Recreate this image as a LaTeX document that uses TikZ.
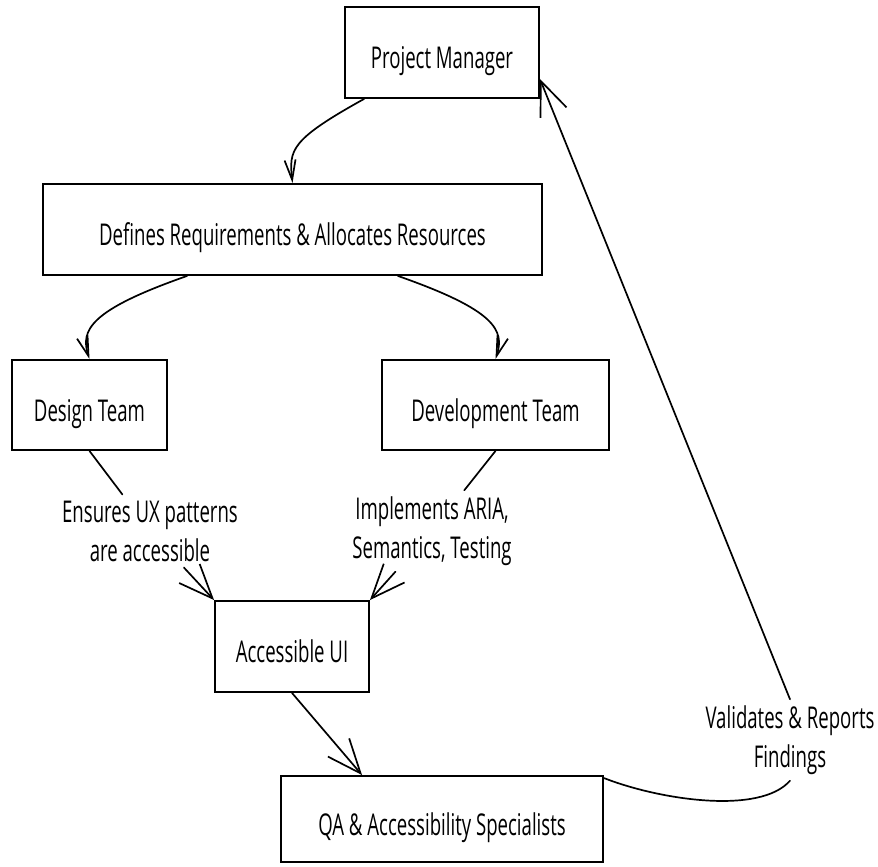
\documentclass[tikz,border=0pt]{standalone}
\usepackage{fontspec}
\setmainfont{Open Sans}[FakeStretch=0.62]
\usetikzlibrary{arrows.meta,calc}
\begin{document}
\begin{tikzpicture}[x=1pt,y=-1pt,
  box/.style={draw=black,line width=1.9pt,fill=white,inner sep=0pt,text height=32pt,text depth=0pt,font=\fontsize{30}{39}\selectfont},
  lab/.style={align=center,inner sep=6pt,font=\fontsize{30}{39}\selectfont},
  conn/.style={line width=1.7pt,line cap=round},
  smallarr/.style={-{Straight Barb[length=20pt,width=11pt]}},
  bigarr/.style={-{Straight Barb[length=34pt,width=28pt]}}]
\useasboundingbox (0,0) rectangle (878,867);
% boxes
\node[box,minimum width=194pt,minimum height=91pt] (pm) at (442,52.5) {Project Manager};
\node[box,minimum width=499pt,minimum height=91pt] (def) at (292.5,229.5) {Defines Requirements \& Allocates Resources};
\node[box,minimum width=155pt,minimum height=90pt] (design) at (89.5,405) {Design Team};
\node[box,minimum width=227pt,minimum height=90pt] (dev) at (495.5,405) {Development Team};
\node[box,minimum width=154pt,minimum height=91pt] (aui) at (292,646.5) {Accessible UI};
\node[box,minimum width=322pt,minimum height=86pt] (qa) at (442,819) {QA \& Accessibility Specialists};
% labels
\node[lab] (lab1) at (150,531) {Ensures UX patterns\\are accessible};
\node[lab] (lab2) at (432,531) {Implements ARIA,\\Semantics, Testing};
\node[lab] (lab3) at (790,740) {Validates \& Reports\\Findings};
% connectors
\draw[conn,smallarr] ([xshift=20pt]pm.south west) .. controls (290,140) and (289,150) .. (def.north);
\draw[conn,smallarr] ([xshift=145pt]def.south west) .. controls (90,310) and (80,330) .. (design.north);
\draw[conn,smallarr] ([xshift=-145pt]def.south east) .. controls (495,310) and (505,330) .. (dev.north);
\draw[conn] (design.south) -- (lab1);
\draw[conn,bigarr] (lab1) -- (aui.north west);
\draw[conn] (dev.south) -- (lab2);
\draw[conn,bigarr] (lab2) -- (aui.north east);
\draw[conn,bigarr] (aui.south) -- ([xshift=82pt]qa.north west);
\draw[conn] ([yshift=-3pt]qa.north east) .. controls (660,800) and (760,815) .. (lab3.south);
\draw[conn,bigarr] (lab3.north) -- ([yshift=20pt]pm.south east);
\end{tikzpicture}
\end{document}
